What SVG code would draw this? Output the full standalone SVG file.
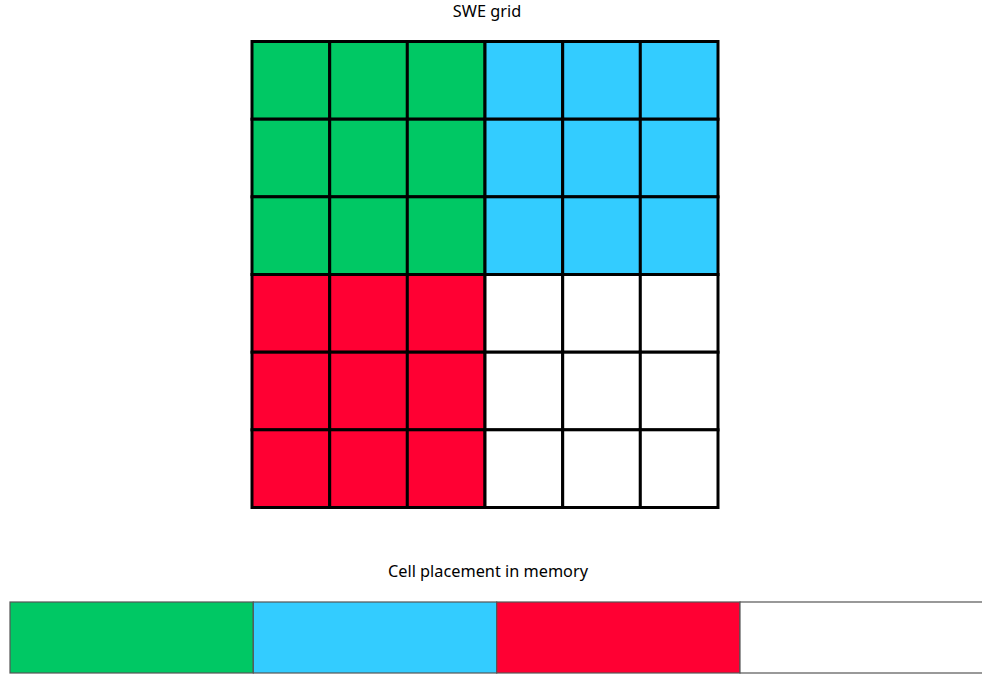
<svg xmlns="http://www.w3.org/2000/svg" width="982" height="675" viewBox="0 0 982 675">
<style>
.t{font-family:"Noto Sans","Open Sans",sans-serif;font-size:16.3px;fill:#000;text-anchor:middle}
.c{stroke:#000;stroke-width:3}
.g{fill:#00C864}.b{fill:#33CCFF}.r{fill:#FF0033}.w{fill:#FFFFFF}
.m{stroke:#555;stroke-width:1.2}
</style>
<rect width="982" height="675" fill="#fff"/>
<text class="t" x="487" y="17">SWE grid</text>
<g id="grid">
<g id="q-green" class="g">
<rect class="c" x="252" y="41.5" width="77.7" height="77.7"/><rect class="c" x="329.7" y="41.5" width="77.7" height="77.7"/><rect class="c" x="407.3" y="41.5" width="77.7" height="77.7"/>
<rect class="c" x="252" y="119.2" width="77.7" height="77.7"/><rect class="c" x="329.7" y="119.2" width="77.7" height="77.7"/><rect class="c" x="407.3" y="119.2" width="77.7" height="77.7"/>
<rect class="c" x="252" y="196.8" width="77.7" height="77.7"/><rect class="c" x="329.7" y="196.8" width="77.7" height="77.7"/><rect class="c" x="407.3" y="196.8" width="77.7" height="77.7"/>
</g>
<g id="q-blue" class="b">
<rect class="c" x="485" y="41.5" width="77.7" height="77.7"/><rect class="c" x="562.7" y="41.5" width="77.7" height="77.7"/><rect class="c" x="640.3" y="41.5" width="77.7" height="77.7"/>
<rect class="c" x="485" y="119.2" width="77.7" height="77.7"/><rect class="c" x="562.7" y="119.2" width="77.7" height="77.7"/><rect class="c" x="640.3" y="119.2" width="77.7" height="77.7"/>
<rect class="c" x="485" y="196.8" width="77.7" height="77.7"/><rect class="c" x="562.7" y="196.8" width="77.7" height="77.7"/><rect class="c" x="640.3" y="196.8" width="77.7" height="77.7"/>
</g>
<g id="q-red" class="r">
<rect class="c" x="252" y="274.5" width="77.7" height="77.7"/><rect class="c" x="329.7" y="274.5" width="77.7" height="77.7"/><rect class="c" x="407.3" y="274.5" width="77.7" height="77.7"/>
<rect class="c" x="252" y="352.2" width="77.7" height="77.7"/><rect class="c" x="329.7" y="352.2" width="77.7" height="77.7"/><rect class="c" x="407.3" y="352.2" width="77.7" height="77.7"/>
<rect class="c" x="252" y="429.8" width="77.7" height="77.7"/><rect class="c" x="329.7" y="429.8" width="77.7" height="77.7"/><rect class="c" x="407.3" y="429.8" width="77.7" height="77.7"/>
</g>
<g id="q-white" class="w">
<rect class="c" x="485" y="274.5" width="77.7" height="77.7"/><rect class="c" x="562.7" y="274.5" width="77.7" height="77.7"/><rect class="c" x="640.3" y="274.5" width="77.7" height="77.7"/>
<rect class="c" x="485" y="352.2" width="77.7" height="77.7"/><rect class="c" x="562.7" y="352.2" width="77.7" height="77.7"/><rect class="c" x="640.3" y="352.2" width="77.7" height="77.7"/>
<rect class="c" x="485" y="429.8" width="77.7" height="77.7"/><rect class="c" x="562.7" y="429.8" width="77.7" height="77.7"/><rect class="c" x="640.3" y="429.8" width="77.7" height="77.7"/>
</g>
</g>
<text class="t" x="488" y="576.5">Cell placement in memory</text>
<g id="memory">
<rect id="m-green" class="g m" x="10" y="602" width="243.3" height="71"/>
<rect id="m-blue" class="b m" x="253.3" y="602" width="243.4" height="71"/>
<rect id="m-red" class="r m" x="496.7" y="602" width="243.3" height="71"/>
<rect id="m-white" class="w m" x="740" y="602" width="250" height="71"/>
</g>
</svg>
